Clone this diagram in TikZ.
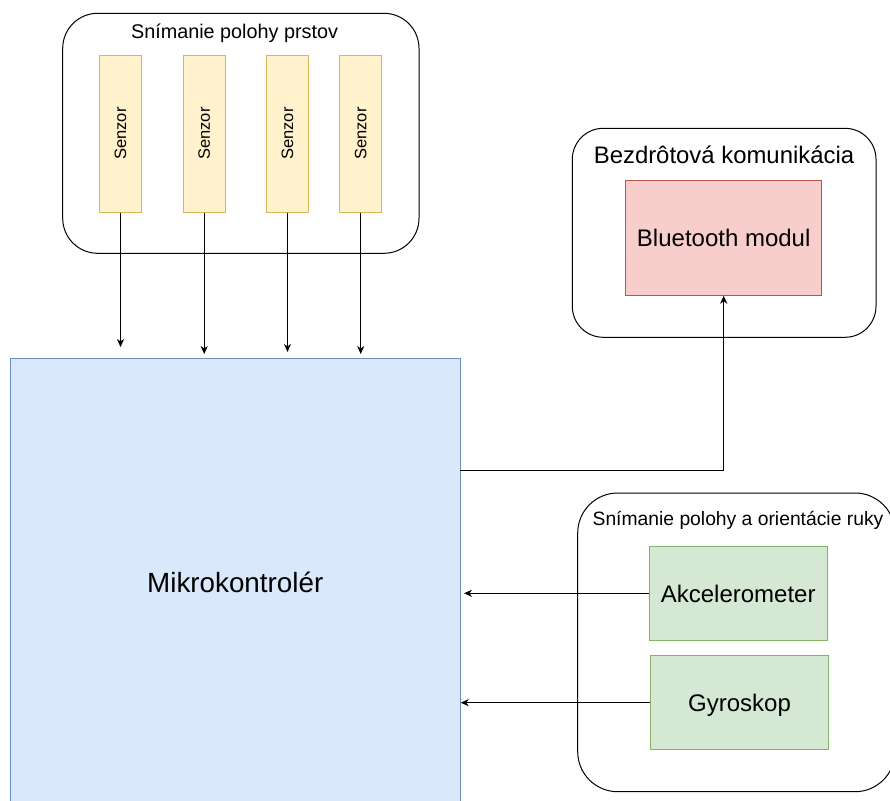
\documentclass[tikz,border=0pt]{standalone}
\usepackage{fontspec}
\setmainfont{Liberation Sans}
\usepackage{graphicx}
\usetikzlibrary{arrows.meta}

\definecolor{sensorfill}{HTML}{FFF2CC}
\definecolor{sensorline}{HTML}{D6B656}
\definecolor{mcufill}{HTML}{DAE8FC}
\definecolor{mculine}{HTML}{6C8EBF}
\definecolor{btfill}{HTML}{F8CECC}
\definecolor{btline}{HTML}{B85450}
\definecolor{imufill}{HTML}{D5E8D4}
\definecolor{imuline}{HTML}{82B366}

\tikzset{
  groupbox/.style={draw, line width=1pt, rounded corners=#1},
  grouptitle/.style={inner sep=0pt, font=\fontsize{#1}{#1}\selectfont},
  sensor/.style={draw=sensorline, fill=sensorfill, line width=1pt, inner sep=0pt,
    minimum width=42pt, minimum height=157pt, font=\fontsize{16.5}{18}\selectfont},
  module/.style={draw=#1line, fill=#1fill, line width=1pt, inner sep=0pt,
    text depth=0pt, font=\fontsize{24}{26}\selectfont},
  conn/.style={line width=1pt, -{Stealth[length=8pt, width=7pt, inset=2.5pt]}}
}

\begin{document}
\begin{tikzpicture}[x=1pt, y=-1pt]
\useasboundingbox (0,0) rectangle (890,800);
\clip (0,0) rectangle (890,800);

% snimanie polohy prstov
\draw[groupbox=35pt] (62.7,13.3) rectangle (419,253.3);
\node[grouptitle=19.8] (t1) at (234.5,33) {Snímanie polohy prstov};
\node[sensor] (s1) at (120.5,133.5) {\rotatebox{90}{Senzor}};
\node[sensor] (s2) at (204.2,133.5) {\rotatebox{90}{Senzor}};
\node[sensor] (s3) at (287.5,133.5) {\rotatebox{90}{Senzor}};
\node[sensor] (s4) at (360.7,133.5) {\rotatebox{90}{Senzor}};

% mikrokontroler
\node[module=mcu, minimum width=449.5pt, minimum height=448pt,
  font=\fontsize{27.8}{30}\selectfont] (mcu) at (235.25,582) {Mikrokontrolér};

% bezdrotova komunikacia
\draw[groupbox=31pt] (572.3,128.3) rectangle (876,337.3);
\node[grouptitle=23.9] (t2) at (724,155) {Bezdrôtová komunikácia};
\node[module=bt, minimum width=196pt, minimum height=115pt] (bt) at (723.7,237.7) {Bluetooth modul};

% snimanie polohy a orientacie ruky
\draw[groupbox=40pt] (577.7,493) rectangle (895,791.7);
\node[grouptitle=19.3] (t3) at (738,520) {Snímanie polohy a orientácie ruky};
\node[module=imu, minimum width=177.7pt, minimum height=94pt] (akc) at (738.2,593.3) {Akcelerometer};
\node[module=imu, minimum width=178.4pt, minimum height=94pt] (gyr) at (739.5,702.7) {Gyroskop};

% spojenia
\coordinate (e1) at (120.5,347);
\coordinate (e2) at (204.2,354);
\coordinate (e3) at (287.5,352);
\coordinate (e4) at (360.7,354);
\coordinate (m1) at (460,470);
\coordinate (e5) at (464,593.3);
\coordinate (e6) at (460.7,702.7);

\draw[conn] (s1.south) -- (e1);
\draw[conn] (s2.south) -- (e2);
\draw[conn] (s3.south) -- (e3);
\draw[conn] (s4.south) -- (e4);
\draw[conn] (m1) -| (bt.south);
\draw[conn] (akc.west) -- (e5);
\draw[conn] (gyr.west) -- (e6);
\end{tikzpicture}
\end{document}
